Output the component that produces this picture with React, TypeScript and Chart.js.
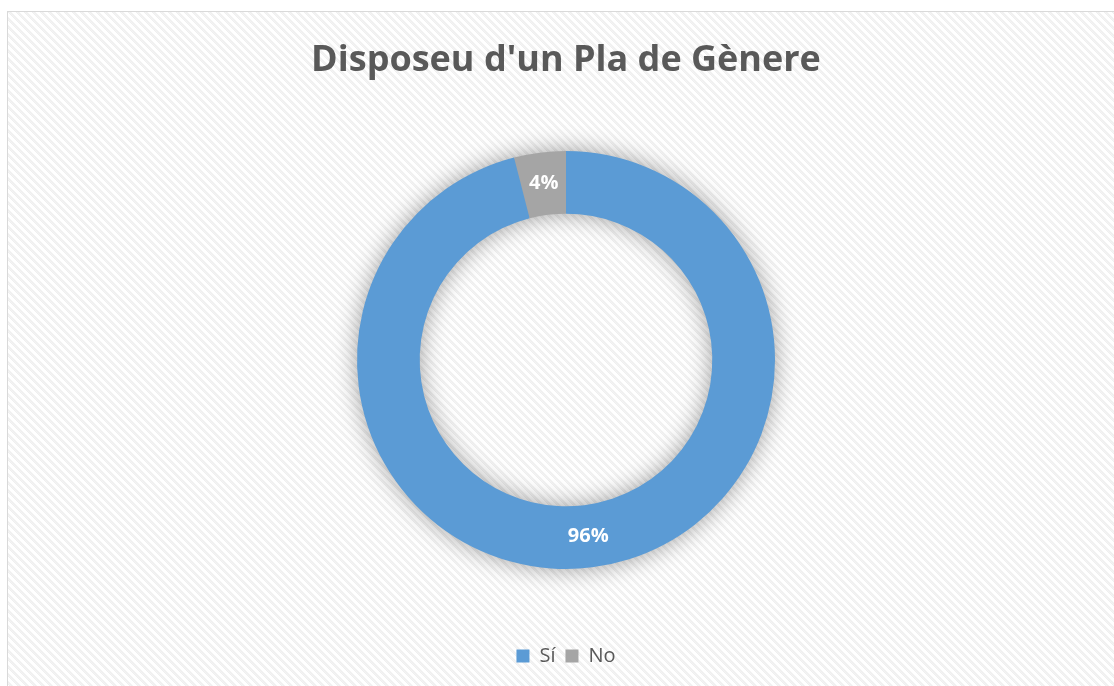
import React, { useEffect, useRef } from "react";
import { Chart, registerables } from "chart.js";

Chart.register(...registerables);

const titleText = "Disposeu d'un Pla de Gènere";
const categories = ["Sí", "No"];
const values = [96, 4];
const colors = ["#5b9bd5", "#a5a5a5"];

function makePattern(ctx: CanvasRenderingContext2D) {
  const tile = document.createElement("canvas");
  tile.width = 8;
  tile.height = 8;
  const t = tile.getContext("2d")!;
  t.fillStyle = "#ffffff";
  t.fillRect(0, 0, 8, 8);
  for (let y = 0; y < 8; y++) {
    for (let x = 0; x < 8; x++) {
      const d = (((x - y) % 8) + 8) % 8;
      if (d < 4) {
        t.fillStyle = (x + y) % 2 === 0 ? "#efefef" : "#f4f4f4";
        t.fillRect(x, y, 1, 1);
      }
    }
  }
  return ctx.createPattern(tile, "repeat");
}

const bgPlugin = {
  id: "bgPattern",
  beforeDraw(chart: any) {
    const ctx = chart.ctx;
    const p = makePattern(ctx);
    ctx.save();
    if (p) ctx.fillStyle = p;
    ctx.fillRect(0, 0, chart.width, chart.height);
    ctx.restore();
  },
};

const shadowPlugin = {
  id: "ringShadow",
  beforeDatasetsDraw(chart: any) {
    const meta = chart.getDatasetMeta(0);
    const arc = meta.data[0];
    if (!arc) return;
    const { x, y, outerRadius, innerRadius } = arc.getProps(["x", "y", "outerRadius", "innerRadius"], true);
    const ctx = chart.ctx;
    ctx.save();
    ctx.shadowColor = "rgba(0,0,0,0.4)";
    ctx.shadowBlur = 24;
    ctx.shadowOffsetX = 0;
    ctx.shadowOffsetY = 0;
    ctx.fillStyle = colors[0];
    ctx.beginPath();
    ctx.arc(x, y, outerRadius - 1, 0, Math.PI * 2);
    ctx.arc(x, y, innerRadius + 1, Math.PI * 2, 0, true);
    ctx.closePath();
    ctx.fill();
    ctx.restore();
  },
};

const labelPlugin = {
  id: "sliceLabels",
  afterDatasetsDraw(chart: any) {
    const meta = chart.getDatasetMeta(0);
    const ctx = chart.ctx;
    const total = values.reduce((a, b) => a + b, 0);
    ctx.save();
    ctx.fillStyle = "#ffffff";
    ctx.font = "bold 20px 'Open Sans'";
    ctx.textAlign = "center";
    ctx.textBaseline = "middle";
    meta.data.forEach((el: any, i: number) => {
      const pos = el.tooltipPosition();
      const pct = Math.round((values[i] / total) * 100) + "%";
      ctx.fillText(pct, pos.x, pos.y);
    });
    ctx.restore();
  },
};

export default function App() {
  const ref = useRef<HTMLCanvasElement>(null);
  useEffect(() => {
    if (!ref.current) return;
    const chart = new Chart(ref.current, {
      type: "doughnut",
      data: {
        labels: categories,
        datasets: [
          {
            data: values,
            backgroundColor: colors,
            borderWidth: 0,
            hoverOffset: 0,
            offset: 0,
          },
        ],
      },
      options: {
        animation: false,
        responsive: false,
        radius: 209,
        cutout: "70%",
        layout: { padding: { top: 0, bottom: 10, left: 0, right: 0 } },
        plugins: {
          tooltip: { enabled: false },
          title: {
            display: true,
            text: titleText,
            color: "#595959",
            font: { family: "'Open Sans'", size: 36, weight: "bold", lineHeight: 1.2 },
            padding: { top: 27.4, bottom: 1.4 },
          },
          legend: {
            display: true,
            position: "bottom",
            labels: {
              color: "#595959",
              font: { family: "'Open Sans'", size: 20 },
              boxWidth: 13,
              boxHeight: 13,
              padding: 10,
            },
          },
        },
      },
      plugins: [bgPlugin, shadowPlugin, labelPlugin],
    });
    return () => chart.destroy();
  }, []);
  return (
    <div
      style={{
        position: "fixed",
        left: 7,
        top: 11,
        width: 1200,
        height: 800,
        borderLeft: "1px solid #d9d9d9",
        borderTop: "1px solid #d9d9d9",
        overflow: "hidden",
      }}
    >
      <canvas ref={ref} width={1116} height={674} style={{ display: "block", width: 1116, height: 674 }} />
    </div>
  );
}
